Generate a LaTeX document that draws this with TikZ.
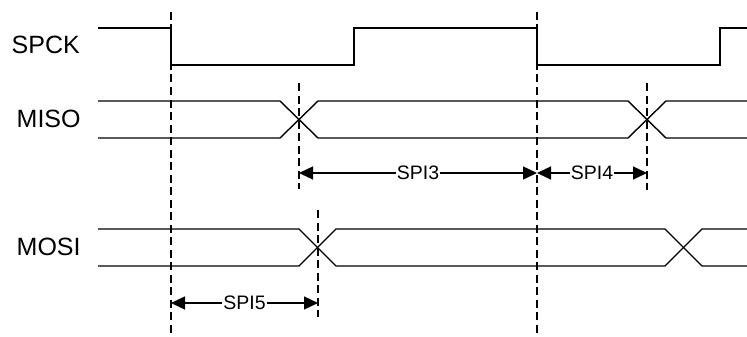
\documentclass[tikz,border=0pt]{standalone}
\usepackage{fontspec}
\setmainfont{Liberation Sans}
\usetikzlibrary{arrows.meta}

\begin{document}
\begin{tikzpicture}[x=1pt,y=-1pt,line width=1.4pt,line join=miter,
	sig/.style={anchor=west,inner sep=0pt,font=\fontsize{25}{29}\selectfont},
	guide/.style={line width=1.6pt,dash pattern=on 8pt off 4.5pt},
	span/.style={{Triangle[length=14pt,width=13pt]}-{Triangle[length=14pt,width=13pt]}},
	lbl/.style={fill=white,inner sep=1pt,font=\fontsize{19.5}{22}\selectfont}]
	\useasboundingbox (0,0) rectangle (747,337);
	\node[sig] (spck) at (11,45) {SPCK};
	\node[sig] (miso) at (16,119) {MISO};
	\node[sig] (mosi) at (16,247) {MOSI};
	% waveforms
	\draw (98,28) -- (171,28) -- (171,65) -- (354,65) -- (354,28) -- (537,28)
		-- (537,65) -- (720,65) -- (720,28) -- (747,28);
	\draw (98,101) -- (280,101) -- (318,138) -- (628,138) -- (666,101) -- (747,101);
	\draw (98,138) -- (280,138) -- (318,101) -- (628,101) -- (666,138) -- (747,138);
	\draw (98,229) -- (299,229) -- (336,266) -- (665,266) -- (702,229) -- (747,229);
	\draw (98,266) -- (299,266) -- (336,229) -- (665,229) -- (702,266) -- (747,266);
	% guides
	\coordinate (g1) at (171,12);   \coordinate (h1) at (171,337);
	\coordinate (g2) at (537,12);   \coordinate (h2) at (537,337);
	\coordinate (g3) at (299,83);   \coordinate (h3) at (299,189);
	\coordinate (g4) at (647,83);   \coordinate (h4) at (647,190);
	\coordinate (g5) at (318,210);  \coordinate (h5) at (318,317);
	\foreach \i in {1,...,5}
		\draw[guide] (g\i) -- (h\i);
	% timings
	\coordinate (t3) at (299,173);
	\coordinate (t4) at (537,173);
	\coordinate (t5) at (647,173);
	\coordinate (s1) at (171,303);
	\coordinate (s2) at (318,303);
	\draw[span] (t3) -- node[lbl] {SPI3} (t4);
	\draw[span] (t4) -- node[lbl] {SPI4} (t5);
	\draw[span] (s1) -- node[lbl] {SPI5} (s2);
\end{tikzpicture}
\end{document}
